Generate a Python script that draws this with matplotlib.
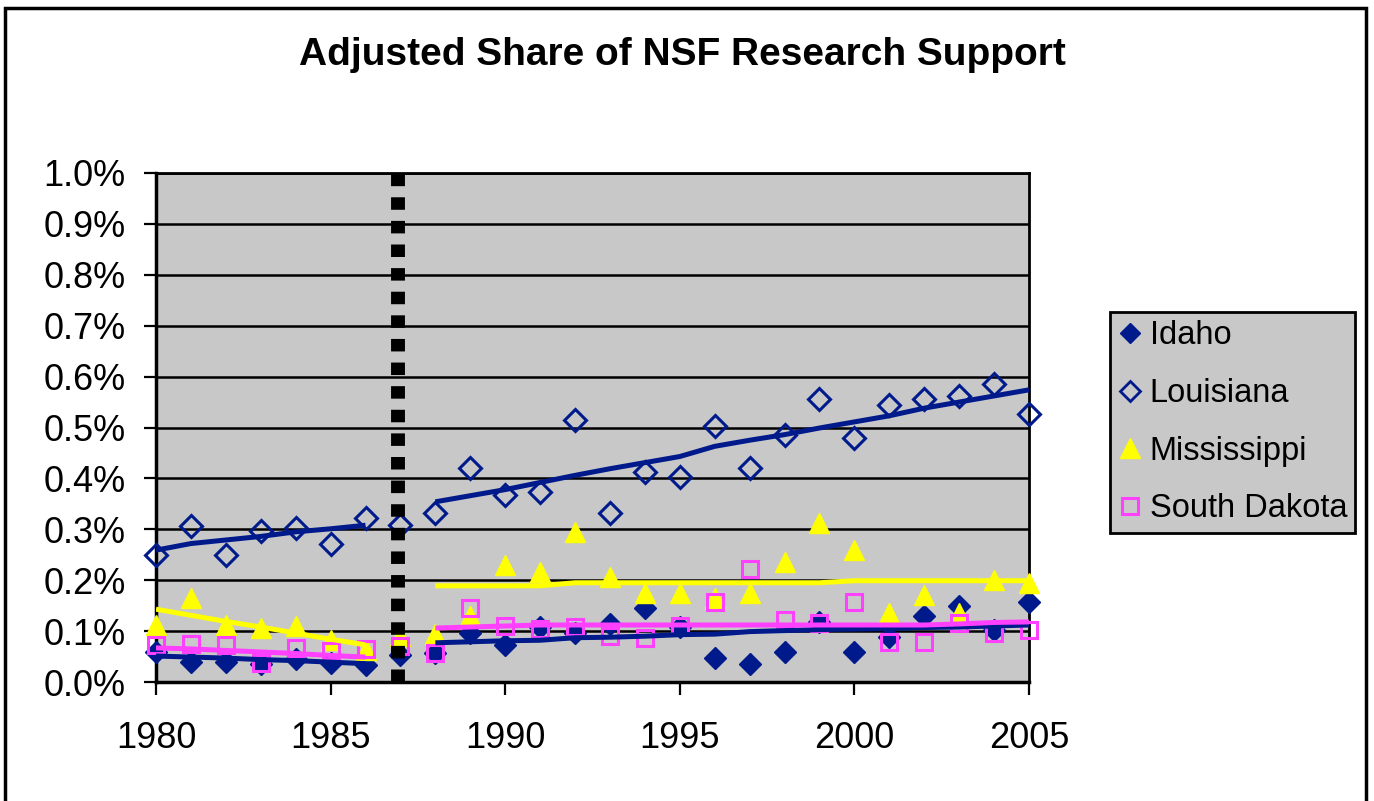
import matplotlib
matplotlib.use("Agg")
import matplotlib.pyplot as plt
from matplotlib.lines import Line2D
from matplotlib.patches import Rectangle
from matplotlib.ticker import FuncFormatter

plt.rcParams['font.family'] = ['Liberation Sans', 'DejaVu Sans']

# values in percent
years = list(range(1980, 2006))
idaho = [0.058, 0.040, 0.040, 0.036, 0.045, 0.038, 0.033, 0.053, 0.057, 0.096, 0.073, 0.108,
         0.097, 0.114, 0.145, 0.108, 0.047, 0.035, 0.059, 0.118, 0.059, 0.088, 0.130, 0.149,
         0.102, 0.157]
louisiana = [0.250, 0.306, 0.250, 0.296, 0.303, 0.272, 0.322, 0.308, 0.332, 0.420, 0.367, 0.373,
             0.515, 0.332, 0.413, 0.403, 0.503, 0.420, 0.485, 0.556, 0.479, 0.544, 0.556, 0.562,
             0.585, 0.527]
mississippi = [0.112, 0.165, 0.112, 0.106, 0.110, 0.082, 0.063, 0.090, 0.094, 0.130, 0.230, 0.216,
               0.295, 0.206, 0.175, 0.175, 0.165, 0.175, 0.236, 0.312, 0.260, 0.135, 0.170, 0.135,
               0.200, 0.194]
south_dakota = [0.072, 0.075, 0.072, 0.037, 0.066, 0.060, 0.064, 0.070, 0.057, 0.146, 0.110, 0.104,
                0.108, 0.091, 0.086, 0.110, 0.157, 0.222, 0.122, 0.116, 0.157, 0.079, 0.079, 0.116,
                0.097, 0.103]

# trend lines, before and after the break
years_pre = list(range(1980, 1987))
years_post = list(range(1988, 2006))
idaho_pre = [0.051, 0.049, 0.047, 0.044, 0.042, 0.039, 0.036]
idaho_post = [0.077, 0.079, 0.081, 0.082, 0.087, 0.088, 0.090, 0.093, 0.094, 0.099, 0.101, 0.103,
              0.104, 0.105, 0.107, 0.108, 0.110, 0.112]
louisiana_pre = [0.259, 0.272, 0.279, 0.286, 0.295, 0.301, 0.308]
louisiana_post = [0.354, 0.366, 0.378, 0.392, 0.406, 0.419, 0.431, 0.443, 0.463, 0.475, 0.486, 0.499,
                  0.511, 0.523, 0.538, 0.550, 0.562, 0.574]
mississippi_pre = [0.143, 0.131, 0.119, 0.108, 0.096, 0.084, 0.073]
mississippi_post = [0.189, 0.189, 0.189, 0.189, 0.195, 0.195, 0.195, 0.195, 0.195, 0.195, 0.195, 0.195,
                    0.199, 0.199, 0.199, 0.199, 0.199, 0.199]
sd_pre = [0.067, 0.065, 0.062, 0.059, 0.056, 0.052, 0.049]
sd_post = [0.106, 0.108, 0.110, 0.112, 0.112, 0.112, 0.112, 0.112, 0.112, 0.112, 0.112, 0.112,
           0.112, 0.112, 0.112, 0.114, 0.117, 0.118]
break_year = 1986.93

navy = '#001a8c'
yellow = '#ffff00'
pink = '#ff40ff'
gray = '#c8c8c8'

fig = plt.figure(figsize=(13.74, 8.01), dpi=100)
ax = fig.add_axes([156 / 1374, 119 / 801, 873 / 1374, 509 / 801])
ax.set_facecolor(gray)

# outer chart border
fig.patches.append(Rectangle((5 / 1374, -0.05), 1361 / 1374, 793 / 801 + 0.05,
                             transform=fig.transFigure, fill=False, lw=2.5, ec='black'))

# markers
ax.plot(years, idaho, 'D', color=navy, ms=11, mec=navy, zorder=3, clip_on=False)
ax.plot(years, louisiana, 'D', mfc='none', mec=navy, ms=11, mew=2.2, zorder=3, clip_on=False)
ax.plot(years, mississippi, '^', color=yellow, mec=yellow, ms=15, zorder=3, clip_on=False)
ax.plot(years, south_dakota, 's', mfc='none', mec=pink, ms=12, mew=2.2, zorder=3, clip_on=False)

# trend lines
for xs, ys, c in [(years_pre, louisiana_pre, navy), (years_post, louisiana_post, navy),
                  (years_pre, mississippi_pre, yellow), (years_post, mississippi_post, yellow),
                  (years_pre, idaho_pre, navy), (years_post, idaho_post, navy),
                  (years_pre, sd_pre, pink), (years_post, sd_post, pink)]:
    ax.plot(xs, ys, '-', color=c, lw=3.6, zorder=4, solid_capstyle='butt')

# break marker
ax.plot([break_year, break_year], [0, 1.0], color='black', lw=10, dashes=(0.9, 0.8),
        dash_capstyle='butt', zorder=5, clip_on=False)

ax.set_xlim(1980, 2005)
ax.set_ylim(0, 1.0)
ax.set_xticks([1980, 1985, 1990, 1995, 2000, 2005])
ax.set_yticks([i / 10 for i in range(11)])
ax.yaxis.set_major_formatter(FuncFormatter(lambda v, p: '%.1f%%' % v))
ax.tick_params(axis='both', direction='out', length=9, width=1.6, labelsize=26, colors='black')
ax.tick_params(axis='x', pad=19)
ax.tick_params(axis='y', pad=13)
ax.grid(axis='y', color='black', lw=1.8)
ax.set_axisbelow(True)
for s in ax.spines.values():
    s.set_linewidth(2)
ax.spines['left'].set_linewidth(2.5)
ax.spines['bottom'].set_linewidth(2.5)

fig.text(0.497, 1 - 55 / 801, 'Adjusted Share of NSF Research Support', ha='center', va='center',
         fontsize=28, fontweight='bold')

handles = [
    Line2D([], [], ls='none', marker='D', color=navy, ms=10),
    Line2D([], [], ls='none', marker='D', mfc='none', mec=navy, ms=10, mew=2),
    Line2D([], [], ls='none', marker='^', color=yellow, ms=14),
    Line2D([], [], ls='none', marker='s', mfc='none', mec=pink, ms=11, mew=2.2),
]
leg = fig.legend(handles, ['Idaho', 'Louisiana', 'Mississippi', 'South Dakota'],
                 loc='upper left', bbox_to_anchor=(1110 / 1374, 1 - 312 / 801),
                 fontsize=23.5, frameon=True, fancybox=False, facecolor=gray, edgecolor='black',
                 handlelength=0.7, handletextpad=0.27, labelspacing=0.82, borderpad=0.25,
                 borderaxespad=0)
leg.get_frame().set_linewidth(2)
leg.get_frame().set_alpha(1)

plt.savefig('out.png', dpi=100)
